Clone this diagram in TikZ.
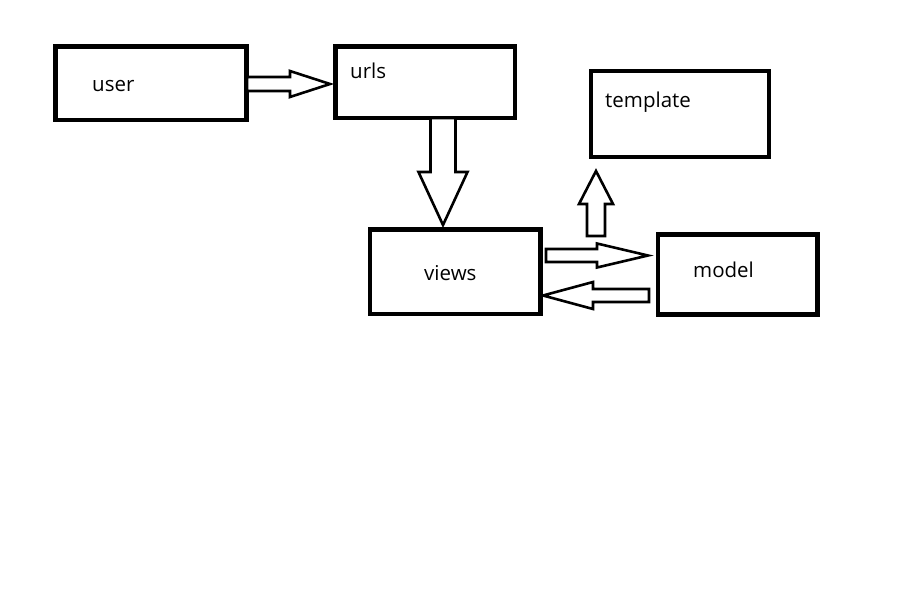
\documentclass[tikz,border=0pt]{standalone}
\usepackage{fontspec}
\setmainfont{Open Sans}
\begin{document}
\begin{tikzpicture}[x=1pt,y=-1pt,
  box/.style={draw=black, fill=white, line width=4.5pt, inner sep=0pt, outer sep=0pt},
  thinbox/.style={box, line width=3.2pt},
  lbl/.style={inner sep=0pt, anchor=base west, font=\fontsize{20.5}{24}\selectfont},
  blockarrow/.style={draw=black, fill=white, line width=2.6pt, line join=miter}]
  \useasboundingbox[fill=white] (0,0) rectangle (916,602);

  % boxes
  \node[box, minimum width=191pt, minimum height=73.5pt] (user) at (151,83.25) {};
  \node[box, minimum width=179.5pt, minimum height=71.5pt] (urls) at (425.25,82.25) {};
  \node[thinbox, minimum width=178pt, minimum height=86pt] (template) at (680,114) {};
  \node[box, minimum width=170.5pt, minimum height=84.5pt] (views) at (455.25,271.75) {};
  \node[box, minimum width=159.5pt, minimum height=80pt] (model) at (737.75,274.5) {};

  % labels
  \node[lbl] (userlbl) at (92,92) {user};
  \node[lbl] (urlslbl) at (350,78) {urls};
  \node[lbl] (templatelbl) at (605,107) {template};
  \node[lbl] (viewslbl) at (424,280) {views};
  \node[lbl] (modellbl) at (693,277) {model};

  % hollow block arrows: #2 length, #3 shaft half width, #4 head half width, #5 head length
  \newcommand{\hollowarrow}[5][]{%
    \draw[blockarrow,#1] (0,-#3) -- ({#2-#5},-#3) -- ({#2-#5},-#4) -- (#2,0)
      -- ({#2-#5},#4) -- ({#2-#5},#3) -- (0,#3) -- cycle;}

  % user -> urls
  \hollowarrow[shift={(247,84)}]{83}{7}{13}{40}
  % urls -> views
  \hollowarrow[shift={(443,118)}, rotate=-90]{107}{12.5}{24.5}{53}
  % views -> template
  \hollowarrow[shift={(596,236)}, rotate=90]{65}{9}{17}{33}
  % views -> model
  \hollowarrow[shift={(546,255.5)}]{102}{6.5}{12}{51}
  % model -> views
  \hollowarrow[shift={(649,295.5)}, rotate=180]{106}{6.5}{13.5}{50}
\end{tikzpicture}
\end{document}
